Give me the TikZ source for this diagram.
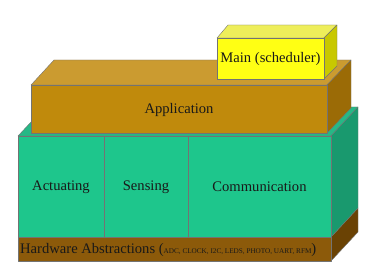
\documentclass[tikz,border=0pt]{standalone}
\usepackage{fontspec}
\setmainfont{Liberation Serif}
\usepackage{tikz}

\definecolor{hwfront}{HTML}{8C5A0A}
\definecolor{hwside}{HTML}{6A4204}
\definecolor{grfront}{HTML}{1EC68C}
\definecolor{grtop}{HTML}{26B886}
\definecolor{grside}{HTML}{19996E}
\definecolor{apfront}{HTML}{C08A0C}
\definecolor{aptop}{HTML}{CB9B30}
\definecolor{apside}{HTML}{9B6B06}
\definecolor{mnfront}{HTML}{FFFF14}
\definecolor{mntop}{HTML}{EEEE5A}
\definecolor{mnside}{HTML}{C8C800}

\begin{document}
\begin{tikzpicture}[
    x=1pt, y=-1pt,
    face/.style={draw=black!55, line width=0.4pt, line join=round},
    lbl/.style={font=\fontsize{14.6}{16}\selectfont, text=black!90, inner sep=0pt},
]
\useasboundingbox (0,0) rectangle (376,272);

% Hardware layer
\path[face, fill=hwside] (331,237) -- (358,208) -- (358,232) -- (331,261) -- cycle;
\path[face, fill=hwfront] (18,237) rectangle (331,261);

% Green layer
\path[face, fill=grtop] (18,136) -- (45,107) -- (358,107) -- (331,136) -- cycle;
\path[face, fill=grside] (331,136) -- (358,107) -- (358,208) -- (331,237) -- cycle;
\path[face, fill=grfront] (18,136) rectangle (331,237);
\draw[black!55, line width=0.4pt] (104,136) -- (104,237);
\draw[black!55, line width=0.4pt] (188,136) -- (188,237);

% Application
\path[face, fill=aptop] (31,85) -- (54,60) -- (351,60) -- (327,85) -- cycle;
\path[face, fill=apside] (327,85) -- (351,60) -- (351,108) -- (327,133) -- cycle;
\path[face, fill=apfront] (31,85) rectangle (327,133);

% Main
\path[face, fill=mntop] (217,38) -- (228,25) -- (337,25) -- (324,38) -- cycle;
\path[face, fill=mnside] (324,38) -- (337,25) -- (337,66) -- (324,79) -- cycle;
\path[face, fill=mnfront] (217,38) rectangle (324,79);

% Labels
\node[lbl] (main) at (270.5,59) {Main (scheduler)};
\node[lbl] (app) at (179,110) {Application};
\node[lbl] (act) at (61,187) {Actuating};
\node[lbl] (sens) at (146,187) {Sensing};
\node[lbl] (comm) at (259.5,187) {Communication};
\node[lbl, anchor=base west] (hw) at (20,254) {Hardware Abstractions (\fontsize{7.2}{8}\selectfont ADC, CLOCK, I2C, LEDS, PHOTO, UART, RFM\fontsize{14.6}{16}\selectfont)};
\end{tikzpicture}
\end{document}
